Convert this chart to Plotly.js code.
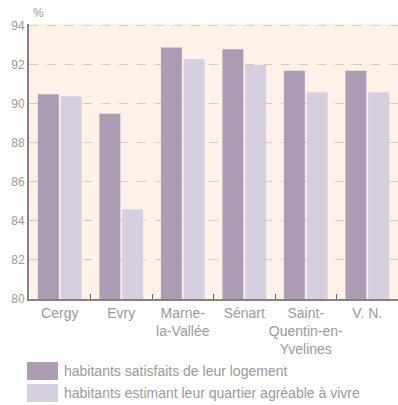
<!DOCTYPE html>
<html><head><meta charset="utf-8">
<script src="https://cdn.plot.ly/plotly-3.0.1.min.js"></script>
<style>html,body{margin:0;padding:0;background:#fff;}#chart{width:398px;height:405px;}</style>
</head><body><div id="chart"></div>
<script>
const categories = ["Cergy", "Evry", "Marne-<br>la-Vallée", "Sénart", "Saint-<br>Quentin-en-<br>Yvelines", "V. N."];
const seriesNames = ["habitants satisfaits de leur logement", "habitants estimant leur quartier agréable à vivre"];
const satisfaitsLogement = [90.5, 89.5, 92.9, 92.8, 91.7, 91.7];
const quartierAgreable = [90.4, 84.6, 92.3, 92.0, 90.6, 90.6];
const yTicks = [80, 82, 84, 86, 88, 90, 92, 94];

const colors = ["#ab9cb4", "#d6cfe0"];
const fam = "Liberation Sans, Arial, sans-serif";
const txtColor = "#9a9a9a";
const font = {family: fam, size: 13, color: txtColor};

const data = [
  {type: "bar", x: categories, y: satisfaitsLogement, name: seriesNames[0], marker: {color: colors[0]}},
  {type: "bar", x: categories, y: quartierAgreable, name: seriesNames[1], marker: {color: colors[1]}}
];

// legend drawn in paper coordinates (plot spans y 24..299 px)
const plotTop = 24, plotH = 275, plotLeft = 29, plotW = 369;
function py(px) { return 1 - (px - plotTop) / plotH; }
function pxX(px) { return (px - plotLeft) / plotW; }
const legendShapes = [], legendAnn = [];
seriesNames.forEach((n, i) => {
  const top = 362 + i * 22;
  legendShapes.push({type: "rect", xref: "paper", yref: "paper",
    x0: pxX(27), x1: pxX(58), y0: py(top + 18), y1: py(top),
    fillcolor: colors[i], line: {width: 0}});
  legendAnn.push({xref: "paper", yref: "paper", x: pxX(62), y: py(top + 9),
    xanchor: "left", yanchor: "middle", text: n, showarrow: false,
    font: {family: fam, size: 14, color: txtColor}});
});

const layout = {
  width: 398, height: 405,
  margin: {l: 29, r: 0, t: 24, b: 106},
  paper_bgcolor: "#ffffff",
  plot_bgcolor: "#fdf1e8",
  font: font,
  showlegend: false,
  barmode: "group",
  bargap: 0.26,
  bargroupgap: 0.08,
  xaxis: {
    showline: true, linecolor: "#8a7e7e", linewidth: 2,
    ticks: "inside", tickson: "boundaries", ticklen: 5, tickcolor: "#6e6262", tickwidth: 1,
    showgrid: false, tickangle: 0, automargin: false,
    tickfont: {family: fam, size: 14, color: txtColor}
  },
  yaxis: {
    range: [80, 94.1], tickvals: yTicks, ticktext: yTicks.map(String),
    showline: true, linecolor: "#8a7e7e", linewidth: 2,
    showgrid: true, gridcolor: "#d9c9bb", griddash: "dash", gridwidth: 1,
    zeroline: false, ticks: "", automargin: false,
    tickfont: {family: fam, size: 12, color: txtColor}
  },
  shapes: legendShapes,
  annotations: legendAnn.concat([
    {xref: "paper", yref: "paper", x: pxX(31), y: py(13), xanchor: "left", yanchor: "middle",
     text: "%", showarrow: false, font: {family: fam, size: 12, color: txtColor}}
  ])
};

Plotly.newPlot("chart", data, layout, {displayModeBar: false, staticPlot: true});
</script>
</body></html>
